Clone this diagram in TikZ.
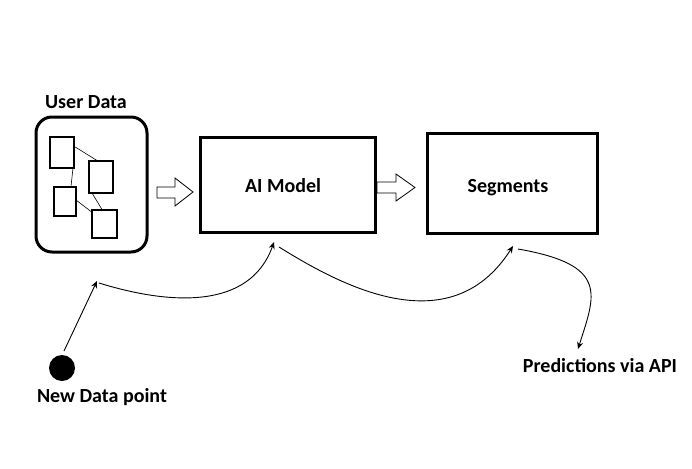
\documentclass[tikz,border=0pt]{standalone}
\usepackage{fontspec}
\setmainfont{Carlito}
\usetikzlibrary{arrows.meta}
\begin{document}
\begin{tikzpicture}[x=1pt,y=-1pt,
  lbl/.style={font=\fontsize{20}{22}\selectfont\bfseries, inner sep=0pt},
  bigbox/.style={draw, line width=3pt, inner sep=0pt},
  smallbox/.style={draw, line width=2.5pt, inner sep=0pt},
  link/.style={line width=0.6pt},
  curve/.style={line width=0.9pt, -{Stealth[length=7pt,width=6pt]}},
  blockarrow/.style={draw, line width=0.8pt, line join=miter}
]
\useasboundingbox (0,0) rectangle (692,468);
% User Data container
\node[lbl] (ud) at (86,102) {User Data};
\draw[line width=3pt, rounded corners=16pt] (36,117) rectangle (147,252);
\node[smallbox, minimum width=24pt, minimum height=31pt] (r1) at (62,152.5) {};
\node[smallbox, minimum width=24pt, minimum height=32pt] (r2) at (101,177) {};
\node[smallbox, minimum width=22pt, minimum height=29pt] (r3) at (65,201.5) {};
\node[smallbox, minimum width=25pt, minimum height=28pt] (r4) at (104.5,224) {};
\draw[link] (r1.east |- 0,147) -- (97,160.5);
\draw[link] (73,168) -- (71,186.5);
\draw[link] (76,200) -- (93,213);
\draw[link] (92,193) -- (102,209.5);
% block arrows
\draw[blockarrow] (157,187) -- (175,187) -- (175,178) -- (193,192) -- (175,206) -- (175,198) -- (157,198) -- cycle;
\draw[blockarrow] (377,182) -- (396,182) -- (396,174) -- (415,187.5) -- (396,201) -- (396,193) -- (377,193) -- cycle;
% main boxes
\node[bigbox, minimum width=175pt, minimum height=95pt] (ai) at (287.5,184.5) {};
\node[lbl] at (283,186) {AI Model};
\node[bigbox, minimum width=170pt, minimum height=100pt] (seg) at (512,183) {};
\node[lbl] at (508,188) {Segments};
% new data point
\node[circle, fill=black, minimum size=26pt, inner sep=0pt] (dot) at (62,368) {};
\node[lbl] (ndp) at (102,397) {New Data point};
\node[lbl] (api) at (600,366) {Predictions via API};
\coordinate (p1) at (97,281);
\coordinate (p2) at (274,242);
\coordinate (p3) at (513,246);
\coordinate (p4) at (578,349);
\draw[curve] (64,351) -- (p1);
\draw[curve] (99,283) .. controls (170,305) and (250,310) .. (p2);
\draw[curve] (279,247) .. controls (340,285) and (450,345) .. (p3);
\draw[curve] (518,249) .. controls (610,265) and (595,295) .. (p4);
\end{tikzpicture}
\end{document}
